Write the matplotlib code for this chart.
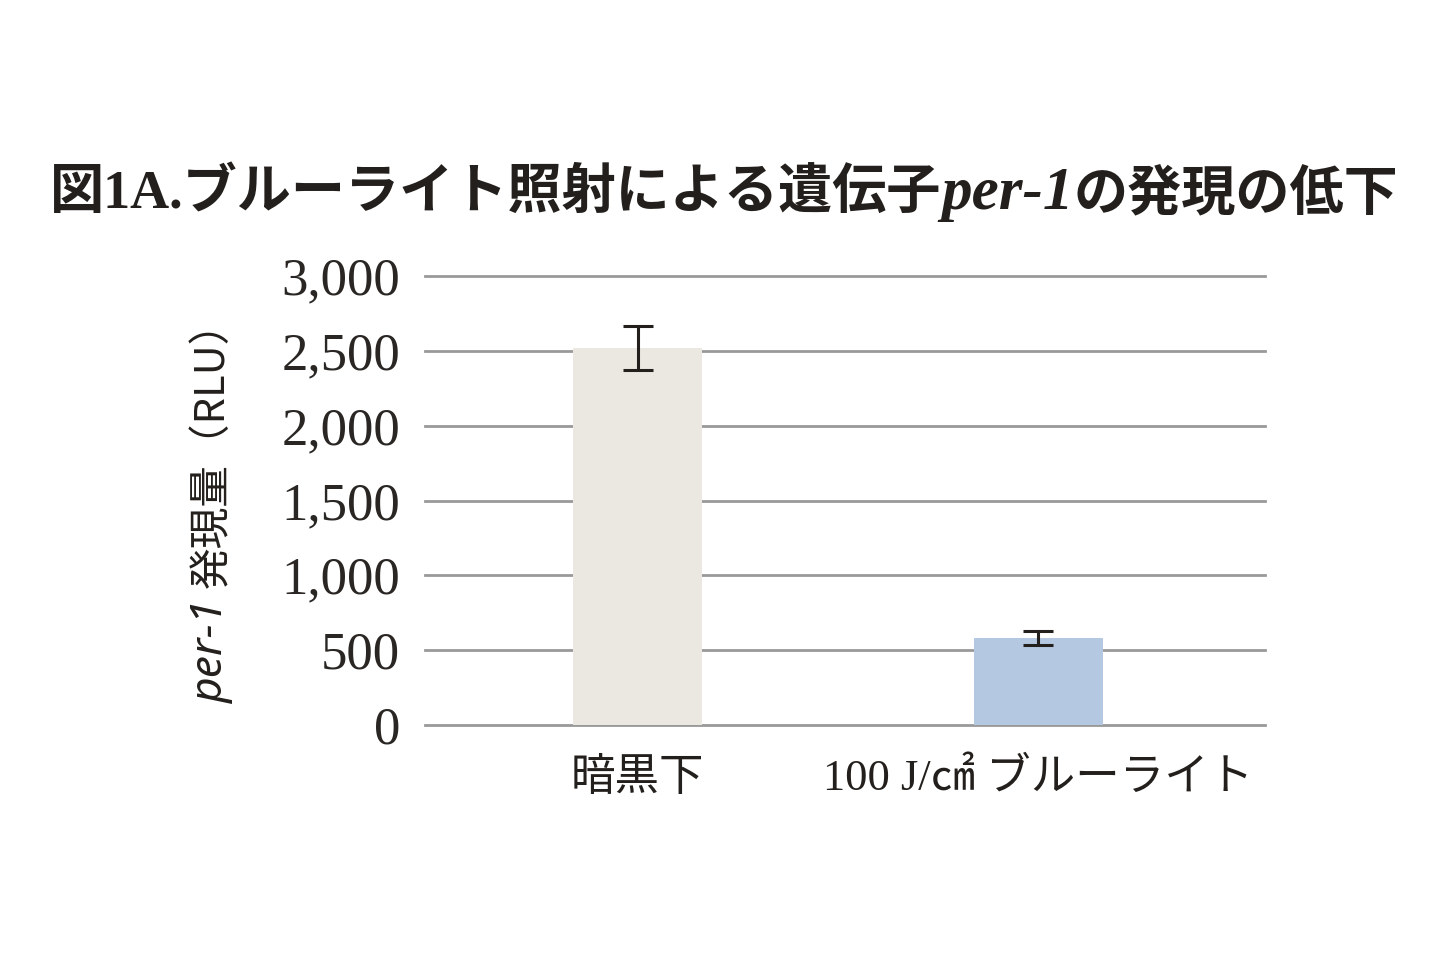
import matplotlib
matplotlib.use('Agg')
import matplotlib.pyplot as plt

categories = ['暗黒下', '100 J/㎠ ブルーライト']
values = [2520, 581]
errors = [147, 47]
yticks = [0, 500, 1000, 1500, 2000, 2500, 3000]
ytick_labels = ['0', '500', '1,000', '1,500', '2,000', '2,500', '3,000']
bar_colors = ['#EAE8E1', '#B5C8E1']

JP = ['Noto Sans CJK JP', 'DejaVu Sans']
SERIF = ['Liberation Serif', 'DejaVu Serif']
MIXED = ['Liberation Serif', 'Noto Sans CJK JP', 'DejaVu Sans']

fig = plt.figure(figsize=(14.4, 9.6), dpi=100)
ax = fig.add_axes([425 / 1440, 1 - 725 / 960, 840 / 1440, 449 / 960])

x = list(range(len(categories)))
ax.bar(x, values, width=0.32, color=bar_colors, zorder=2)
ax.errorbar(x, values, yerr=errors, fmt='none', ecolor='#231f1c',
            elinewidth=2.2, capsize=11, capthick=2.2, zorder=3)

ax.set_ylim(0, 3000)
ax.set_xlim(-0.53, 1.565)
ax.set_yticks(yticks)
ax.set_yticklabels(ytick_labels, family=SERIF, fontsize=38, color='#2a2624')
ax.set_xticks(x)
ax.set_xticklabels(categories, family=MIXED, fontsize=32, color='#231f1c')
ax.tick_params(length=0, axis='y', pad=18)
ax.tick_params(length=0, axis='x', pad=24)
for s in ax.spines.values():
    s.set_visible(False)
ax.yaxis.grid(True, color='#999999', linewidth=2.0, zorder=0)
ax.set_axisbelow(True)
for gl in ax.yaxis.get_gridlines():
    gl.set_clip_on(False)

fig.canvas.draw()
renderer = fig.canvas.get_renderer()


def place_parts(parts, x0, y0, horizontal=True, **common):
    # draw text pieces one after another, measuring each with the renderer
    rot = 0 if horizontal else 90
    widths = []
    for s, kw in parts:
        t = fig.text(0, 0, s, rotation=rot, **{**common, **kw})
        bb = t.get_window_extent(renderer)
        widths.append(bb.width if horizontal else bb.height)
        t.remove()
    total = sum(widths)
    pos = (x0 if horizontal else y0) - total / 2
    for (s, kw), w in zip(parts, widths):
        if horizontal:
            fig.text(pos / 1440, y0 / 960, s, ha='left', va='center', **{**common, **kw})
        else:
            fig.text(x0 / 1440, pos / 960, s, ha='center', va='bottom', rotation=90,
                     **{**common, **kw})
        pos += w


title_parts = [
    ('図1A.ブルーライト照射による遺伝子', dict(family=MIXED, weight='bold')),
    ('per-1', dict(family=SERIF, weight='bold', style='italic', fontsize=44)),
    ('の発現の低下', dict(family=JP, weight='bold')),
]
place_parts(title_parts, 724, 960 - 194, horizontal=True, fontsize=39, color='#231f1c')

ylabel_parts = [
    ('per-1 ', dict(family=['Noto Sans', 'DejaVu Sans'], style='italic', fontsize=32)),
    ('発現量（RLU）', dict(family=JP)),
]
place_parts(ylabel_parts, 212, 960 - 502, horizontal=False, fontsize=30, color='#231f1c')

fig.savefig('out.png', dpi=100, facecolor='white')
